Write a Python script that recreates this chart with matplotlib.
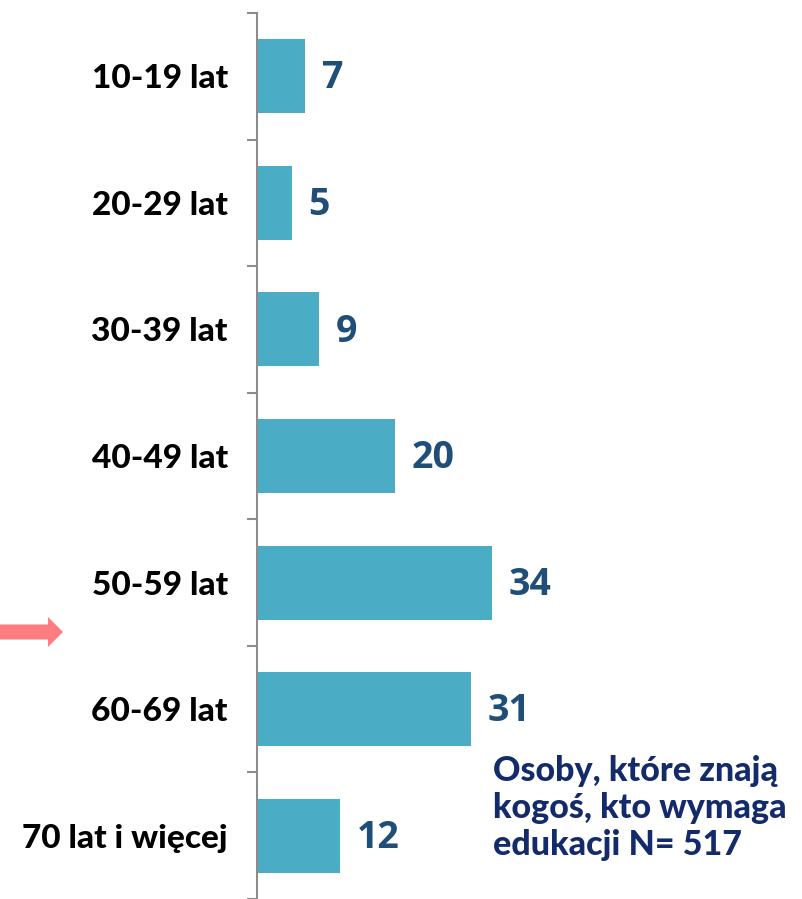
import matplotlib
matplotlib.use("Agg")
import matplotlib.pyplot as plt
from matplotlib.patches import FancyArrow

categories = ["10-19 lat", "20-29 lat", "30-39 lat", "40-49 lat",
              "50-59 lat", "60-69 lat", "70 lat i więcej"]
values = [7, 5, 9, 20, 34, 31, 12]
note = "Osoby, które znają\nkogoś, kto wymaga\nedukacji N= 517"

BAR_COLOR = "#4BACC6"
VALUE_COLOR = "#1F4E79"
NOTE_COLOR = "#132A6B"

W, H = 803, 899
fig = plt.figure(figsize=(W / 100, H / 100), dpi=100)
ax = fig.add_axes([257 / W, 0, 1 - 257 / W, 1 - 13 / H])

pos = list(range(len(categories)))
ax.barh(pos, values, height=0.585, color=BAR_COLOR)
ax.set_ylim(len(categories) - 0.5, -0.5)
ax.set_xlim(0, 79.0)

for p, v in zip(pos, values):
    ax.annotate(str(v), (v, p), xytext=(12, -1.5), textcoords="offset points",
                ha="left", va="center", fontsize=27, fontweight="bold",
                color=VALUE_COLOR, family="Open Sans")

for s in ["top", "right", "bottom"]:
    ax.spines[s].set_visible(False)
ax.spines["left"].set_color("#8C8C8C")
ax.spines["left"].set_linewidth(1.5)

ax.set_xticks([])
ax.set_yticks(pos)
ax.set_yticklabels(categories, fontsize=24, fontweight=900, family="Lato")
ax.tick_params(axis="y", which="major", length=0, pad=21)
ax.set_yticks([p - 0.5 for p in pos] + [len(pos) - 0.5], minor=True)
ax.tick_params(axis="y", which="minor", length=7, width=1.5, color="#8C8C8C")

# overlay in pixel coordinates for the decorations
over = fig.add_axes([0, 0, 1, 1])
over.set_xlim(0, W)
over.set_ylim(H, 0)
over.axis("off")
over.add_patch(FancyArrow(0, 632, 48, 0, width=15, head_width=30,
                          head_length=15, length_includes_head=False,
                          color="#FF7C80", linewidth=0))
over.text(493, 755, note, ha="left", va="top", fontsize=24.5,
          fontweight=900, color=NOTE_COLOR, family="Lato", linespacing=1.2)

fig.savefig("out.png", dpi=100)
